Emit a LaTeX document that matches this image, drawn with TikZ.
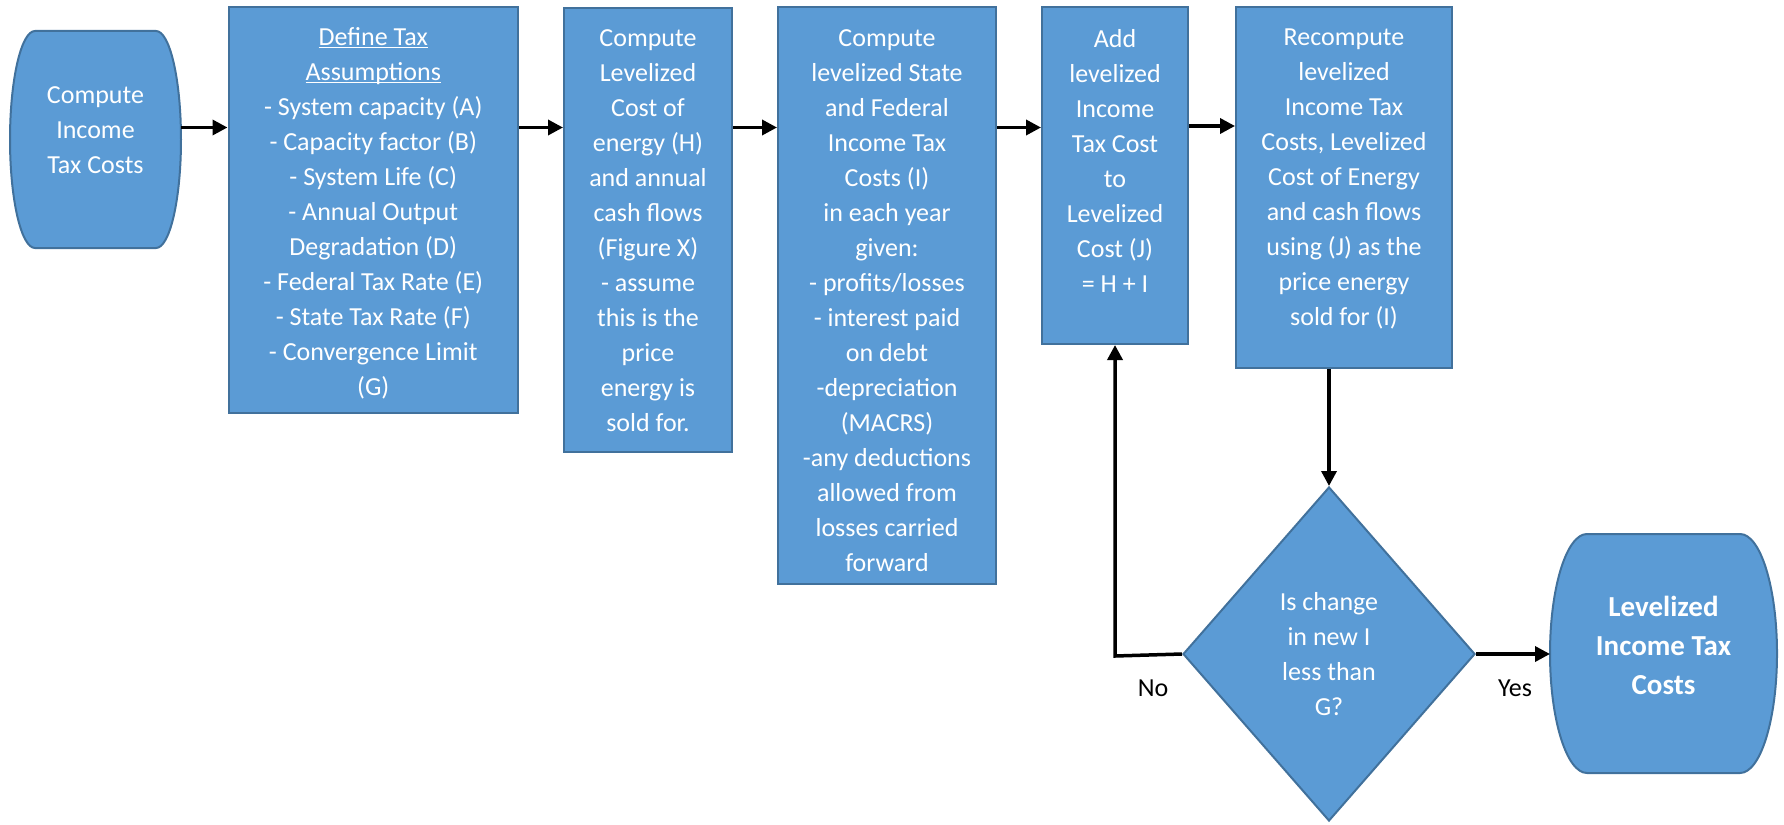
\documentclass[tikz,border=0pt]{standalone}
\usepackage{fontspec}
\setmainfont{Carlito}
\usetikzlibrary{shapes.geometric,arrows.meta}
\definecolor{boxfill}{HTML}{5B9BD5}
\definecolor{boxline}{HTML}{41719C}
\newcommand\myul[1]{\setbox0\hbox{#1}\rlap{\rule[-3.2pt]{\wd0}{1.6pt}}\box0}
\begin{document}
\begin{tikzpicture}[x=1pt,y=-1pt,line join=miter,
  procbox/.style={draw=boxline,fill=boxfill,line width=2pt,inner sep=0pt},
  termnode/.style={draw=none,inner sep=0pt,outer sep=0pt},
  termline/.style={draw=boxline,fill=boxfill,line width=2pt},
  txt/.style={text=white,align=center,font=\fontsize{26}{35}\selectfont,inner sep=0pt},
  btxt/.style={text=white,align=center,font=\fontsize{29}{39}\selectfont\bfseries,inner sep=0pt},
  decision/.style={diamond,draw=boxline,fill=boxfill,line width=2pt,inner sep=0pt,
    text=white,align=center,font=\fontsize{26}{35}\selectfont},
  arr/.style={line width=3.5pt,draw=black,-{Triangle[length=15pt,width=15pt]}},
  lbl/.style={font=\fontsize{26}{35}\selectfont,inner sep=0pt,text=black}]
\useasboundingbox (0,0) rectangle (1784,824);
% start terminal
\node[termnode,minimum width=171pt,minimum height=217pt] (start) at (95.5,139.5) {};
\draw[termline] ([xshift=25pt]start.north west) -- ([xshift=-25pt]start.north east)
  arc[start angle=90,end angle=-90,x radius=25pt,y radius=108.5pt]
  -- ([xshift=25pt]start.south west)
  arc[start angle=270,end angle=90,x radius=25pt,y radius=108.5pt] -- cycle;
\node[txt] (starttext) at (95.5,130) {Compute\\Income\\Tax Costs};
% process boxes
\node[procbox,minimum width=289.5pt,minimum height=406pt] (box2) at (373.25,210) {};
\node[txt] (box2text) at (373.25,213) {\myul{Define Tax}\\\myul{Assumptions}\\- System capacity (A)\\- Capacity factor (B)\\- System Life (C)\\- Annual Output\\Degradation (D)\\- Federal Tax Rate (E)\\- State Tax Rate (F)\\- Convergence Limit\\(G)};
\node[procbox,minimum width=168pt,minimum height=444pt] (box3) at (648,230) {};
\node[txt] (box3text) at (648,231) {Compute\\Levelized\\Cost of\\energy (H)\\and annual\\cash flows\\(Figure X)\\- assume\\this is the\\price\\energy is\\sold for.};
\node[procbox,minimum width=218pt,minimum height=577pt] (box4) at (887,295.5) {};
\node[txt] (box4text) at (887,301) {Compute\\levelized State\\and Federal\\Income Tax\\Costs (I)\\in each year\\given:\\- profits/losses\\- interest paid\\on debt\\-depreciation\\(MACRS)\\-any deductions\\allowed from\\losses carried\\forward};
\node[procbox,minimum width=146pt,minimum height=337pt] (box5) at (1115,175.5) {};
\node[txt] (box5text) at (1115,161) {Add\\levelized\\Income\\Tax Cost\\to\\Levelized\\Cost (J)\\= H + I};
\node[procbox,minimum width=216pt,minimum height=361pt] (box6) at (1344,187.5) {};
\node[txt] (box6text) at (1344,178.5) {Recompute\\levelized\\Income Tax\\Costs, Levelized\\Cost of Energy\\and cash flows\\using (J) as the\\price energy\\sold for (I)};
% decision
\node[decision,minimum width=292pt,minimum height=334pt] (dia) at (1329,654) {Is change\\in new I\\less than\\G?};
% end terminal
\node[termnode,minimum width=227pt,minimum height=239pt] (endt) at (1663.5,653.5) {};
\draw[termline] ([xshift=37pt]endt.north west) -- ([xshift=-37pt]endt.north east)
  arc[start angle=90,end angle=-90,x radius=37pt,y radius=119.5pt]
  -- ([xshift=37pt]endt.south west)
  arc[start angle=270,end angle=90,x radius=37pt,y radius=119.5pt] -- cycle;
\node[btxt] (endtext) at (1663.5,645) {Levelized\\Income Tax\\Costs};
% connectors
\coordinate (row) at (0,127.5);
\draw[arr] (start.east |- row) -- (box2.west |- row);
\draw[arr] (box2.east |- row) -- (box3.west |- row);
\draw[arr] (box3.east |- row) -- (box4.west |- row);
\draw[arr] (box4.east |- row) -- (box5.west |- row);
\draw[arr] ([yshift=1.5pt]box5.east |- row) -- ([yshift=1.5pt]box6.west |- row);
\draw[arr] (dia.north |- box6.south) -- (dia.north);
\draw[arr] (dia.east) -- (endt.west |- dia.east);
\coordinate (nocorner) at (1115,656);
\draw[arr] (dia.west) -- (nocorner) -- (box5.south);
\node[lbl] (no) at (1153,688) {No};
\node[lbl] (yes) at (1515,688) {Yes};
\end{tikzpicture}
\end{document}
